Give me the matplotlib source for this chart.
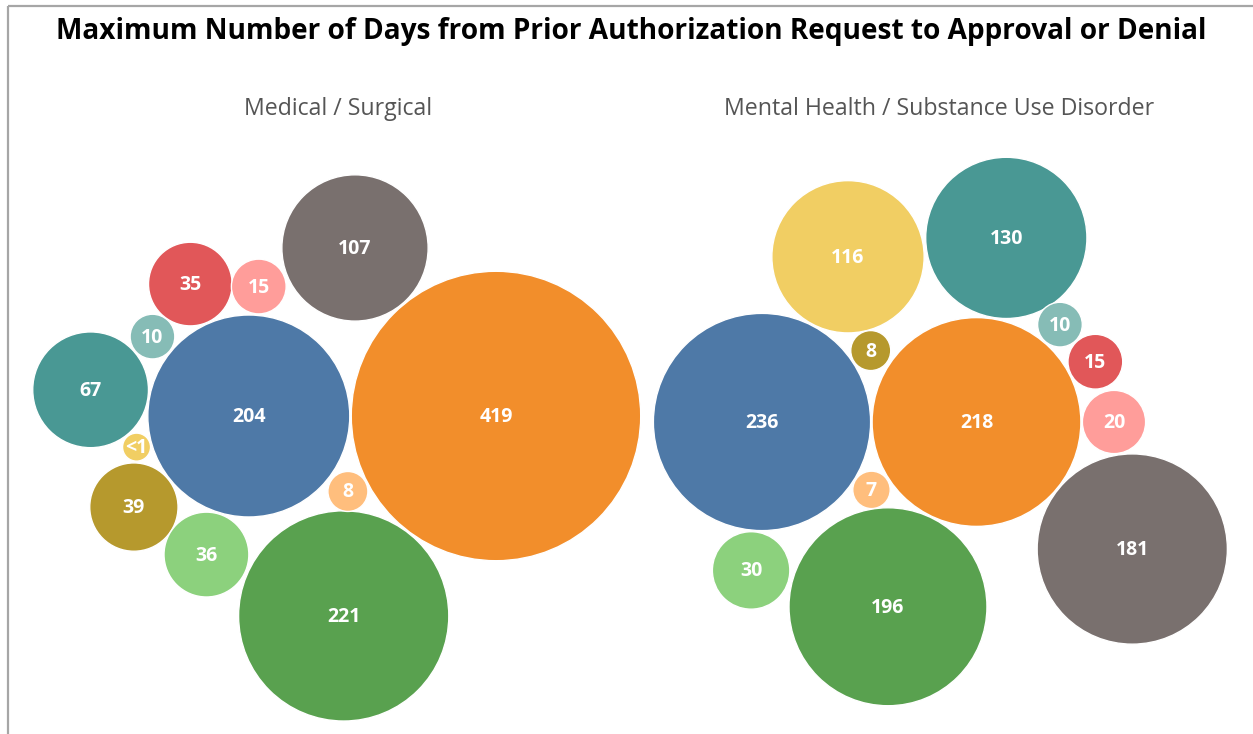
import numpy as np
import matplotlib
matplotlib.use("Agg")
import matplotlib.pyplot as plt
from matplotlib.patches import Circle

# ---------------- data ----------------
title = "Maximum Number of Days from Prior Authorization Request to Approval or Denial"
panel_titles = ["Medical / Surgical", "Mental Health / Substance Use Disorder"]

# colour keys (Tableau 20 palette) shared by both panels
color_keys = ["blue", "orange", "green", "gray", "teal", "yellow",
              "olive", "lightgreen", "red", "pink", "lightteal", "lightorange"]

med_values = [204, 419, 221, 107, 67, 0.5, 39, 36, 35, 15, 10, 8]
med_labels = ["204", "419", "221", "107", "67", "<1", "39", "36", "35", "15", "10", "8"]

mh_values = [236, 218, 196, 181, 130, 116, 8, 30, 15, 20, 10, 7]
mh_labels = ["236", "218", "196", "181", "130", "116", "8", "30", "15", "20", "10", "7"]

# ---------------- styles ----------------
palette = {
    "blue": "#4e79a7", "orange": "#f28e2b", "green": "#59a14f", "gray": "#79706e",
    "teal": "#499894", "yellow": "#f1ce63", "olive": "#b6992d", "lightgreen": "#8cd17d",
    "red": "#e15759", "pink": "#ff9d9a", "lightteal": "#86bcb6", "lightorange": "#ffbe7d",
}

K = 7.07          # px per sqrt(day)
MIN_R = 14.0      # minimum bubble radius (px)
GAP = 1.5

# packing layout: (anchor index, angle in degrees) per bubble; the first bubble is the seed
med_seed = (496, 416)
med_layout = {1: None, 0: (1, 180), 2: (1, 127.3), 3: (1, 230), 11: (1, 153),
              4: (0, 189.4), 10: (0, 219.5), 8: (0, 246.1), 9: (0, 274.4),
              5: (0, 164.5), 6: (0, 141.6), 7: (0, 107)}
med_order = [1, 0, 2, 3, 11, 4, 10, 8, 9, 5, 6, 7]

mh_seed = (762, 422)
mh_layout = {0: None, 1: (0, 0), 2: (1, 115.6), 3: (1, 39.2), 4: (1, 279.2),
             5: (0, 297.5), 6: (0, 326.7), 11: (0, 31.8), 7: (0, 94.2),
             10: (1, 310.6), 8: (1, 333.1), 9: (1, 0)}
mh_order = [0, 1, 2, 3, 4, 5, 6, 11, 7, 10, 8, 9]


def pack(values, seed, layout, order):
    r = np.maximum(K * np.sqrt(np.asarray(values, float)), MIN_R)
    centers = {}
    for i in order:
        spec = layout[i]
        if spec is None:
            centers[i] = np.array(seed, float)
        else:
            j, ang = spec
            d = r[i] + r[j] + GAP
            a = np.deg2rad(ang)
            centers[i] = centers[j] + d * np.array([np.cos(a), np.sin(a)])
    return r, centers


plt.rcParams["font.family"] = ["Open Sans", "DejaVu Sans"]
W, H = 1253, 734
fig = plt.figure(figsize=(W / 100, H / 100), dpi=100)
ax = fig.add_axes([0, 0, 1, 1])
ax.set_xlim(0, W)
ax.set_ylim(H, 0)
ax.axis("off")

for values, labels, seed, layout, order in [
    (med_values, med_labels, med_seed, med_layout, med_order),
    (mh_values, mh_labels, mh_seed, mh_layout, mh_order),
]:
    r, centers = pack(values, seed, layout, order)
    for i in order:
        cx, cy = centers[i]
        ax.add_patch(Circle((cx, cy), r[i], facecolor=palette[color_keys[i]],
                            edgecolor="white", linewidth=1.0))
        ax.text(cx, cy + 1, labels[i], ha="center", va="center", color="white",
                fontsize=14, fontweight="bold")

# frame
ax.plot([8, 8], [6, H], color="#a6a6a6", lw=1.6, solid_capstyle="butt")
ax.plot([8, W], [6, 6], color="#a6a6a6", lw=1.6, solid_capstyle="butt")

ax.text(631, 31, title, ha="center", va="center", fontsize=20.2, fontweight="bold", color="black")
ax.text(338, 109, panel_titles[0], ha="center", va="center", fontsize=16.7, color="#555555")
ax.text(939, 109, panel_titles[1], ha="center", va="center", fontsize=16.7, color="#555555")

fig.savefig("out.png", dpi=100)
